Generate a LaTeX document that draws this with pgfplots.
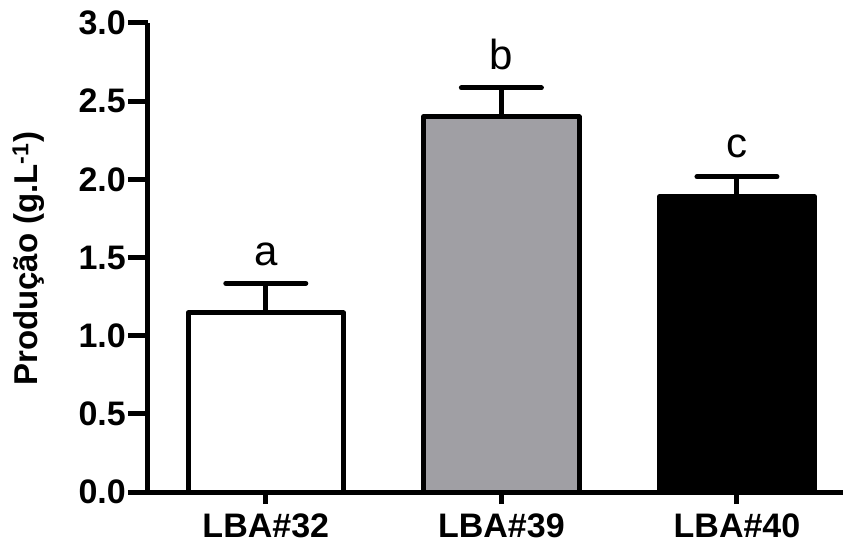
\documentclass[border=0pt]{standalone}
\usepackage{fontspec}
\setmainfont{Liberation Sans}
\usepackage{pgfplots}
\pgfplotsset{compat=1.18}
\definecolor{bargray}{RGB}{160,159,164}
\begin{document}
\begin{tikzpicture}
\useasboundingbox (-148bp,-52bp) rectangle (695bp,492bp);
\begin{axis}[
  at={(0,0)}, anchor=south west,
  scale only axis, width=695bp, height=469bp,
  xmin=-0.5, xmax=2.45, ymin=0, ymax=3,
  axis x line=bottom, axis y line=left,
  axis line style={line width=5bp, -},
  ytick={0,0.5,1,1.5,2,2.5,3},
  xtick={0,1,2},
  xticklabels={LBA\#32, LBA\#39, LBA\#40},
  tick align=outside,
  major tick length=20bp,
  x tick style={/pgfplots/major tick length=12bp},
  tick style={line width=5bp, black},
  /pgf/number format/assume math mode=true,
  yticklabel={\pgfmathprintnumber[fixed,fixed zerofill,precision=1]{\tick}},
  ticklabel style={font=\fontsize{34bp}{38bp}\selectfont\bfseries},
  yticklabel style={inner sep=2bp},
  xticklabel style={inner sep=1bp, yshift=-1bp},
  ylabel={Produção (g.L\textsuperscript{-1})},
  ylabel style={font=\fontsize{33bp}{38bp}\selectfont\bfseries, at={(axis description cs:-0.172,0.497)}, anchor=center, rotate=0},
  clip=false,
]
\addplot[ybar, bar width=0.66, bar shift=0pt, fill=white, draw=black, line width=5bp, line join=round,
  error bars/.cd, y dir=plus, y explicit,
  error bar style={line width=5bp, black},
  error mark options={rotate=90, mark size=40bp, line width=5bp, line cap=round, black}]
  coordinates {(0,1.145) +- (0,0.19)};
\addplot[ybar, bar width=0.66, bar shift=0pt, fill=bargray, draw=black, line width=5bp, line join=round,
  error bars/.cd, y dir=plus, y explicit,
  error bar style={line width=5bp, black},
  error mark options={rotate=90, mark size=40bp, line width=5bp, line cap=round, black}]
  coordinates {(1,2.40) +- (0,0.185)};
\addplot[ybar, bar width=0.66, bar shift=0pt, fill=black, draw=black, line width=5bp, line join=round,
  error bars/.cd, y dir=plus, y explicit,
  error bar style={line width=5bp, black},
  error mark options={rotate=90, mark size=40bp, line width=5bp, line cap=round, black}]
  coordinates {(2,1.887) +- (0,0.13)};
\node[anchor=base, font=\fontsize{42bp}{50bp}\selectfont] at (axis cs:0,1.45) {a};
\node[anchor=base, font=\fontsize{42bp}{50bp}\selectfont] at (axis cs:1,2.70) {b};
\node[anchor=base, font=\fontsize{42bp}{50bp}\selectfont] at (axis cs:2,2.14) {c};
\end{axis}
\end{tikzpicture}
\end{document}
